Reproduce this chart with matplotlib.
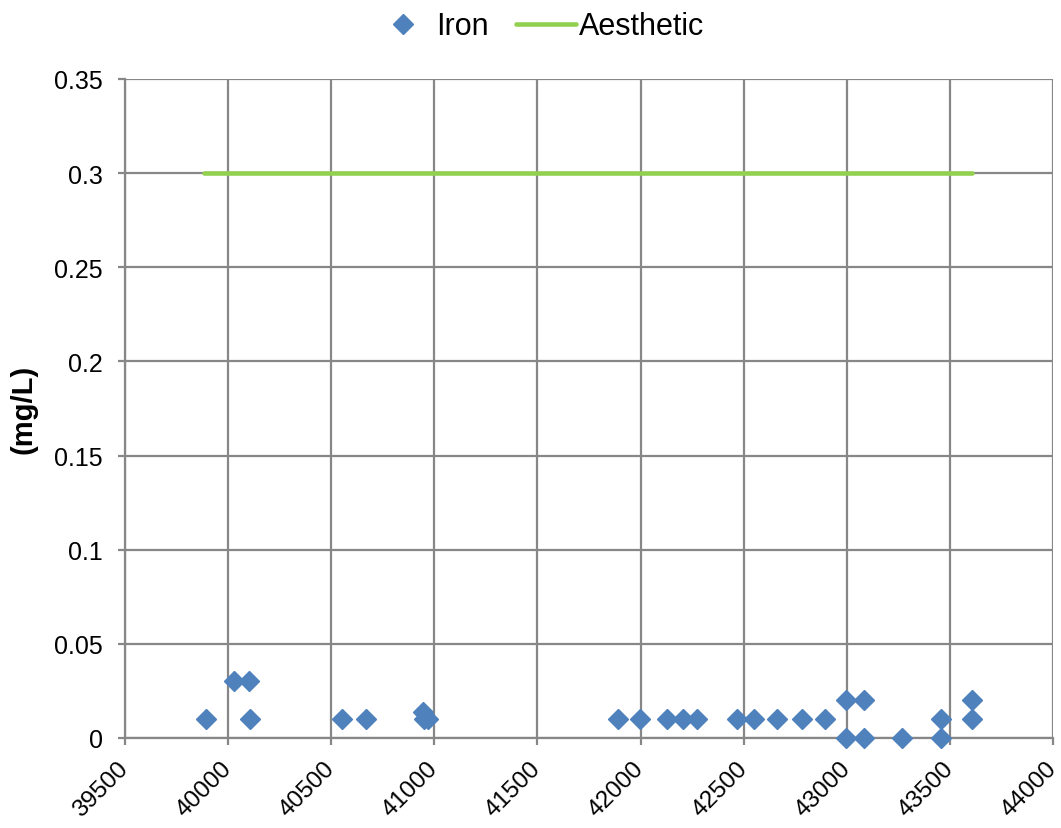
import matplotlib
matplotlib.use("Agg")
import matplotlib.pyplot as plt

plt.rcParams['font.family'] = ['Liberation Sans', 'DejaVu Sans']

# sample dates (Excel serial numbers) and iron readings in mg/L
iron_dates = [39895, 40030, 40103, 40108, 40550, 40667, 40943, 40950, 40970,
              41891, 41997, 42126, 42207, 42275, 42466, 42550, 42663, 42784,
              42894, 42995, 42995, 43084, 43084, 43270, 43456, 43456,
              43606, 43606]
iron_vals = [0.01, 0.03, 0.03, 0.01, 0.01, 0.01, 0.014, 0.01, 0.01,
             0.01, 0.01, 0.01, 0.01, 0.01, 0.01, 0.01, 0.01, 0.01,
             0.01, 0.02, 0.0, 0.02, 0.0, 0.0, 0.01, 0.0,
             0.02, 0.01]

# aesthetic guideline for iron
aes_dates = [39885, 43606]
aes_vals = [0.3, 0.3]

x_ticks = list(range(39500, 44001, 500))
y_ticks = [0, 0.05, 0.1, 0.15, 0.2, 0.25, 0.3, 0.35]
y_labels = ['0', '0.05', '0.1', '0.15', '0.2', '0.25', '0.3', '0.35']

fig = plt.figure(figsize=(10.61, 8.29), dpi=100)
ax = fig.add_axes([0.1178, 0.1086, 0.8747, 0.7949])

grid_c = '#878787'
ax.plot(iron_dates, iron_vals, linestyle='none', marker='D', markersize=10.3,
        color='#4f81bd', label='Iron', zorder=3, clip_on=False)
ax.plot(aes_dates, aes_vals, color='#92d050', linewidth=3.3, label='Aesthetic',
        solid_capstyle='round', zorder=2)

ax.set_xlim(39500, 44000)
ax.set_ylim(0, 0.35)
ax.set_xticks(x_ticks)
ax.set_xticklabels([str(t) for t in x_ticks], rotation=45, ha='right',
                   va='center', rotation_mode='anchor', fontsize=17.5)
ax.set_yticks(y_ticks)
ax.set_yticklabels(y_labels, fontsize=18)
ax.grid(True, color=grid_c, linewidth=1.6)
ax.set_axisbelow(True)
ax.tick_params(axis='both', color=grid_c, width=1.6, length=5)
ax.tick_params(axis='x', pad=14)
ax.tick_params(axis='y', pad=11)

for side in ['top', 'right']:
    ax.spines[side].set_visible(False)
for side in ['left', 'bottom']:
    ax.spines[side].set_color(grid_c)
    ax.spines[side].set_linewidth(1.6)

ax.set_ylabel('(mg/L)', fontsize=21, fontweight='bold')
ax.yaxis.set_label_coords(-0.094, 0.5)

fig.legend(loc='center', bbox_to_anchor=(0.508, 0.967), ncol=2,
           frameon=False, fontsize=22, handlelength=1.95, columnspacing=0.9,
           handletextpad=0.1, borderaxespad=0)

fig.savefig('out.png', dpi=100)
